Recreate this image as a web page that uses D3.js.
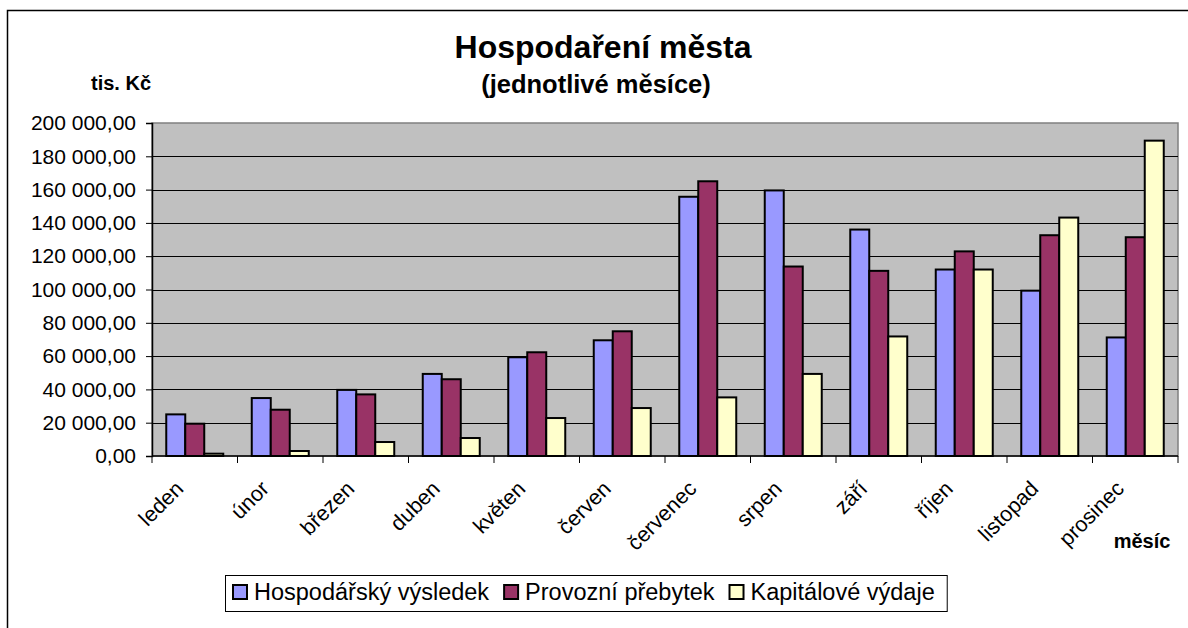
<!DOCTYPE html>
<html>
<head>
<meta charset="utf-8">
<script src="https://cdn.jsdelivr.net/npm/d3@7"></script>
<style>
  html, body { margin: 0; padding: 0; background: #fff; }
  svg { display: block; font-family: "Liberation Sans", Arial, sans-serif; }
</style>
</head>
<body>
<svg id="chart" width="1188" height="628"></svg>
<script>
// Hospodaření města — grouped bars, 3 series per month

const months = ['leden', 'únor', 'březen', 'duben', 'květen', 'červen',
                'červenec', 'srpen', 'září', 'říjen', 'listopad', 'prosinec'];

const hospodarskyVysledek = [25000, 34800, 39700, 49300, 59300, 69500, 155700, 159500, 136000, 112000, 99300, 71200];
const provozniPrebytek    = [19400, 27800, 37000, 46100, 62300, 74900, 165000, 113800, 111200, 122900, 132600, 131400];
const kapitaloveVydaje    = [1400, 3000, 8400, 10800, 22800, 28800, 35200, 49300, 71800, 112000, 143200, 189400];

const seriesNames  = ['Hospodářský výsledek', 'Provozní přebytek', 'Kapitálové výdaje'];
const seriesColors = ['#9999FF', '#993366', '#FFFFCC'];
const yTickValues  = [0, 20000, 40000, 60000, 80000, 100000, 120000, 140000, 160000, 180000, 200000];

const series = [hospodarskyVysledek, provozniPrebytek, kapitaloveVydaje]
  .map((values, i) => ({ name: seriesNames[i], color: seriesColors[i], values }));

// ─── Layout ────────────────────────────────────────────────────────────────
const plot = { left: 152, right: 1178, top: 123, bottom: 456 };

const svg = d3.select('#chart');

// outer chart frame (runs off the right / bottom edge)
svg.append('rect')
  .attr('x', 7.5).attr('y', 10.5)
  .attr('width', 1300).attr('height', 800)
  .attr('fill', 'none')
  .attr('stroke', '#000')
  .attr('stroke-width', 1.5);

// ─── Scales ────────────────────────────────────────────────────────────────
const x = d3.scaleBand()
  .domain(months)
  .range([plot.left, plot.right])
  .padding(0);

const bw = x.bandwidth();
const xInner = d3.scaleBand()
  .domain(d3.range(series.length))
  .range([bw / 6, bw * 5 / 6])
  .padding(0);

const y = d3.scaleLinear()
  .domain([0, 200000])
  .range([plot.bottom, plot.top]);

const cz = d3.formatLocale({ decimal: ',', thousands: '\u00a0', grouping: [3], currency: ['', ''] });
const yFmt = cz.format(',.2f');

// ─── Plot background + grid ───────────────────────────────────────────────
svg.append('rect')
  .attr('x', plot.left).attr('y', plot.top)
  .attr('width', plot.right - plot.left)
  .attr('height', plot.bottom - plot.top)
  .attr('fill', '#C0C0C0')
  .attr('stroke', '#808080')
  .attr('stroke-width', 1.5);

svg.append('g')
  .selectAll('line')
  .data(yTickValues.filter(v => v > 0 && v < 200000))
  .join('line')
  .attr('x1', plot.left).attr('x2', plot.right)
  .attr('y1', d => Math.round(y(d)) + 0.5)
  .attr('y2', d => Math.round(y(d)) + 0.5)
  .attr('stroke', '#000')
  .attr('stroke-width', 1);

// ─── Bars ──────────────────────────────────────────────────────────────────
const groups = svg.append('g')
  .selectAll('g')
  .data(months)
  .join('g')
  .attr('transform', m => `translate(${x(m)},0)`);

groups.selectAll('rect')
  .data((m, i) => series.map((s, k) => ({ k, value: s.values[i], color: s.color })))
  .join('rect')
  .attr('x', d => xInner(d.k))
  .attr('y', d => y(d.value))
  .attr('width', xInner.bandwidth())
  .attr('height', d => y(0) - y(d.value))
  .attr('fill', d => d.color)
  .attr('stroke', '#000')
  .attr('stroke-width', 2);

// ─── Axes ──────────────────────────────────────────────────────────────────
const yAxis = d3.axisLeft(y)
  .tickValues(yTickValues)
  .tickFormat(yFmt)
  .tickSize(6)
  .tickPadding(10);

const gY = svg.append('g')
  .attr('transform', `translate(${plot.left},0)`)
  .call(yAxis);
gY.select('.domain').attr('stroke', '#000').attr('stroke-width', 1.5);
gY.selectAll('.tick line').attr('stroke', '#000');
gY.selectAll('.tick text')
  .attr('fill', '#000')
  .style('font-size', '21px')
  .style('font-family', '"Liberation Sans", Arial, sans-serif');

// x ticks at category boundaries
const boundaries = months.map(m => x(m)).concat([plot.right]);
svg.append('g')
  .selectAll('line')
  .data(boundaries)
  .join('line')
  .attr('x1', d => d).attr('x2', d => d)
  .attr('y1', plot.bottom).attr('y2', plot.bottom + 7)
  .attr('stroke', '#000')
  .attr('stroke-width', 1);

svg.append('line')
  .attr('x1', plot.left).attr('x2', plot.right)
  .attr('y1', plot.bottom).attr('y2', plot.bottom)
  .attr('stroke', '#000')
  .attr('stroke-width', 1.5);

// rotated month labels
svg.append('g')
  .selectAll('text')
  .data(months)
  .join('text')
  .attr('transform', m => `translate(${x(m) + bw / 2 - 10},490) rotate(-45)`)
  .attr('text-anchor', 'end')
  .style('font-size', '21.5px')
  .attr('fill', '#000')
  .text(m => m);

// ─── Titles ────────────────────────────────────────────────────────────────
svg.append('text')
  .attr('x', 603).attr('y', 58)
  .attr('text-anchor', 'middle')
  .style('font-size', '32px').style('font-weight', 'bold')
  .text('Hospodaření města');

svg.append('text')
  .attr('x', 596).attr('y', 93)
  .attr('text-anchor', 'middle')
  .style('font-size', '25.5px').style('font-weight', 'bold')
  .text('(jednotlivé měsíce)');

svg.append('text')
  .attr('x', 121).attr('y', 90)
  .attr('text-anchor', 'middle')
  .style('font-size', '20px').style('font-weight', 'bold')
  .text('tis. Kč');

svg.append('text')
  .attr('x', 1142).attr('y', 548)
  .attr('text-anchor', 'middle')
  .style('font-size', '20px').style('font-weight', 'bold')
  .text('měsíc');

// ─── Legend ────────────────────────────────────────────────────────────────
const legend = svg.append('g');
const legBox = legend.append('rect')
  .attr('fill', '#fff')
  .attr('stroke', '#000')
  .attr('stroke-width', 1);

let lx = 233;
series.forEach(s => {
  legend.append('rect')
    .attr('x', lx).attr('y', 585)
    .attr('width', 14).attr('height', 14)
    .attr('fill', s.color)
    .attr('stroke', '#000')
    .attr('stroke-width', 2);
  const t = legend.append('text')
    .attr('x', lx + 21).attr('y', 600)
    .style('font-size', '23.5px')
    .text(s.name);
  lx += 21 + t.node().getComputedTextLength() + 15;
});

legBox
  .attr('x', 225.5).attr('y', 575.5)
  .attr('width', lx - 15 + 12 - 225)
  .attr('height', 36);
</script>
</body>
</html>
